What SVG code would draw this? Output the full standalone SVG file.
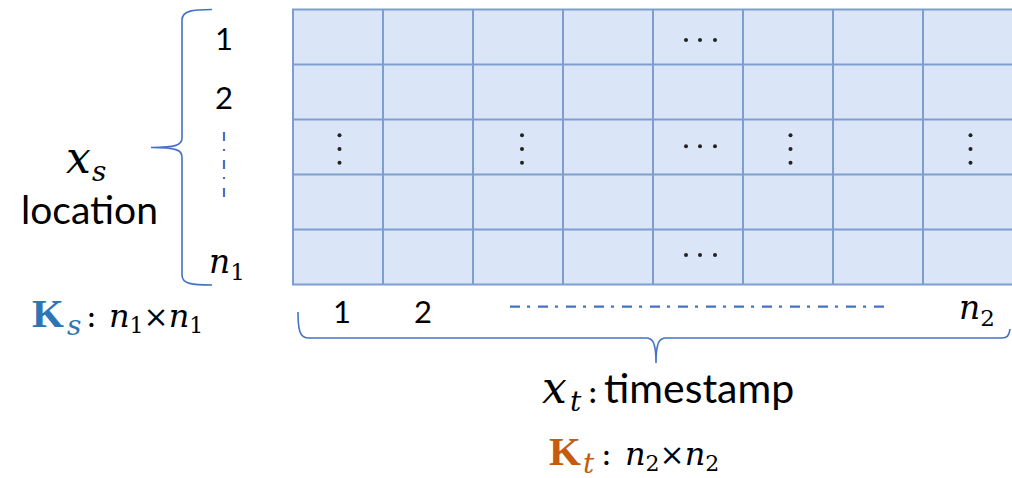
<svg xmlns="http://www.w3.org/2000/svg" width="1012" height="478" viewBox="0 0 1012 478">
<style>
.grid{fill:#DAE6F8;stroke:#7F9ED0;stroke-width:2}
.gl{stroke:#7F9ED0;stroke-width:2}
.dot{fill:#222}
.brace{fill:none;stroke:#4472C4;stroke-width:1.6}
.dd{fill:none;stroke:#4472C4;stroke-width:2.2}
.sans{font-family:Lato,"Liberation Sans",sans-serif;fill:#000}
.math{font-family:"DejaVu Serif","Liberation Serif",serif;font-style:italic;fill:#000}
.bold{font-family:"Liberation Serif","DejaVu Serif",serif;font-weight:bold}
.up{font-family:"DejaVu Serif","Liberation Serif",serif;fill:#000}
</style>
<rect width="1012" height="478" fill="#fff"/>
<g id="matrix">
<rect class="grid" x="293" y="9.5" width="722" height="275"/>
<g class="gl">
<line x1="383" y1="9.5" x2="383" y2="284.5"/>
<line x1="473" y1="9.5" x2="473" y2="284.5"/>
<line x1="563" y1="9.5" x2="563" y2="284.5"/>
<line x1="653" y1="9.5" x2="653" y2="284.5"/>
<line x1="743" y1="9.5" x2="743" y2="284.5"/>
<line x1="833" y1="9.5" x2="833" y2="284.5"/>
<line x1="923" y1="9.5" x2="923" y2="284.5"/>
<line x1="293" y1="64.5" x2="1015" y2="64.5"/>
<line x1="293" y1="119.5" x2="1015" y2="119.5"/>
<line x1="293" y1="174.5" x2="1015" y2="174.5"/>
<line x1="293" y1="229.5" x2="1015" y2="229.5"/>
</g>
<g class="dot">
<circle cx="686" cy="40" r="2"/><circle cx="700" cy="40" r="2"/><circle cx="715" cy="40" r="2"/>
<circle cx="686" cy="146.3" r="2"/><circle cx="700" cy="146.3" r="2"/><circle cx="715" cy="146.3" r="2"/>
<circle cx="686" cy="255" r="2"/><circle cx="700" cy="255" r="2"/><circle cx="715" cy="255" r="2"/>
<circle cx="339.5" cy="135.3" r="2"/><circle cx="339.5" cy="149" r="2"/><circle cx="339.5" cy="162.7" r="2"/>
<circle cx="522" cy="135.3" r="2"/><circle cx="522" cy="149" r="2"/><circle cx="522" cy="162.7" r="2"/>
<circle cx="790.5" cy="135.3" r="2"/><circle cx="790.5" cy="149" r="2"/><circle cx="790.5" cy="162.7" r="2"/>
<circle cx="970.5" cy="135.3" r="2"/><circle cx="970.5" cy="149" r="2"/><circle cx="970.5" cy="162.7" r="2"/>
</g>
</g>
<g id="connectors">
<path class="brace" d="M212,9.5 C192,9.5 182,11 182,20 L182,138 C182,145 176,147.5 151,147.5 C176,147.5 182,150 182,157 L182,275 C182,284 192,285 212,285"/>
<path class="brace" d="M298,312 C298,330 300,338 308,338 L646,338 C653,338 656,343 656,363 C656,343 659,338 666,338 L1002,338 C1007,338 1009,336 1010,329"/>
<line class="dd" x1="224" y1="132" x2="224" y2="200" stroke-dasharray="9 8 2 9"/>
<line class="dd" x1="510" y1="306.7" x2="884" y2="306.7" stroke-dasharray="10 7 3 8"/>
</g>
<g id="row-labels">
<text class="sans" x="224" y="50" font-size="31" text-anchor="middle">1</text>
<text class="sans" x="224" y="109" font-size="31" text-anchor="middle">2</text>
<text class="math" x="209" y="273" font-size="33">n<tspan font-size="23" font-style="normal" dy="7">1</tspan></text>
</g>
<g id="location-label">
<text class="math" x="66" y="173" font-size="44">x<tspan x="92" font-size="28" dy="8">s</tspan></text>
<text class="sans" x="89.5" y="224" font-size="39" text-anchor="middle">location</text>
</g>
<g id="Ks-label">
<text x="32" y="327" font-size="41"><tspan class="bold" fill="#2E75B6">K</tspan><tspan class="math" x="67" font-size="28" dy="8" style="fill:#2E75B6">s</tspan><tspan class="up" dy="-8" x="86" font-size="32">:</tspan><tspan class="math" x="109" font-size="32">n</tspan><tspan class="up" font-size="22" dy="6">1</tspan><tspan class="up" font-size="30" dy="-6">×</tspan><tspan class="math" font-size="32">n</tspan><tspan class="up" font-size="22" dy="6">1</tspan></text>
</g>
<g id="col-labels">
<text class="sans" x="342" y="323" font-size="31" text-anchor="middle">1</text>
<text class="sans" x="423" y="323" font-size="31" text-anchor="middle">2</text>
<text class="math" x="959" y="319" font-size="33">n<tspan font-size="23" font-style="normal" dy="7">2</tspan></text>
</g>
<g id="timestamp-label">
<text x="542" y="403" font-size="44"><tspan class="math">x</tspan><tspan class="math" x="570" font-size="28" dy="8">t</tspan><tspan class="up" dy="-8" x="587" font-size="34">:</tspan><tspan class="sans" x="604" font-size="41">timestamp</tspan></text>
</g>
<g id="Kt-label">
<text x="549" y="465" font-size="41"><tspan class="bold" fill="#C55A11">K</tspan><tspan class="math" x="583" font-size="28" dy="8" style="fill:#C55A11">t</tspan><tspan class="up" dy="-8" x="601" font-size="32">:</tspan><tspan class="math" x="625" font-size="32">n</tspan><tspan class="up" font-size="22" dy="6">2</tspan><tspan class="up" font-size="30" dy="-6">×</tspan><tspan class="math" font-size="32">n</tspan><tspan class="up" font-size="22" dy="6">2</tspan></text>
</g>
</svg>
